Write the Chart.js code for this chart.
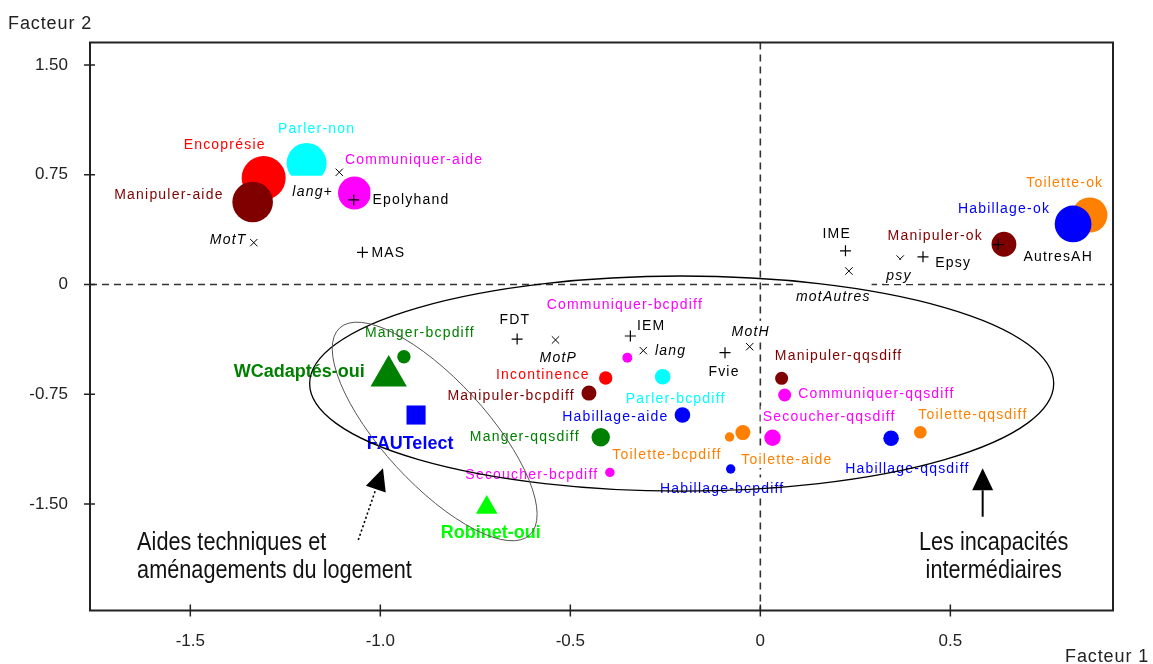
<!DOCTYPE html>
<html>
<head>
<meta charset="utf-8">
<script src="https://cdn.jsdelivr.net/npm/chart.js@4.4.0/dist/chart.umd.min.js"></script>
<style>
  body { margin: 0; background: #fff; }
  canvas { display: block; }
</style>
</head>
<body>
<canvas id="afc" width="1153" height="664"></canvas>
<script>
// modalites actives (cercles), dans l'ordre de trace
const activeNames = ['Encoprésie', 'Manipuler-aide', 'Parler-non', 'Communiquer-aide',
  'Toilette-ok', 'Habillage-ok', 'Manipuler-ok',
  'Manger-bcpdiff', 'Communiquer-bcpdiff', 'Incontinence', 'Manipuler-bcpdiff',
  'Parler-bcpdiff', 'Habillage-aide', 'Manger-qqsdiff', 'Secoucher-bcpdiff',
  'Habillage-bcpdiff', 'Toilette-bcpdiff', 'Toilette-aide', 'Manipuler-qqsdiff',
  'Communiquer-qqsdiff', 'Secoucher-qqsdiff', 'Habillage-qqsdiff', 'Toilette-qqsdiff'];
const activeF1 = [-1.307, -1.336, -1.194, -1.068, 0.867, 0.823, 0.641,
  -0.938, -0.350, -0.407, -0.451, -0.257, -0.205, -0.420, -0.396,
  -0.078, -0.081, -0.046, 0.056, 0.064, 0.032, 0.344, 0.421];
const activeF2 = [0.728, 0.564, 0.830, 0.625, 0.475, 0.414, 0.275,
  -0.494, -0.500, -0.639, -0.742, -0.630, -0.892, -1.044, -1.284,
  -1.261, -1.042, -1.012, -0.641, -0.755, -1.047, -1.051, -1.010];

// aides techniques / amenagements
const equipNames = ['WCadaptés-oui', 'FAUTelect', 'Robinet-oui'];
const equipF1 = [-0.978, -0.906, -0.720];
const equipF2 = [-0.625, -0.892, -1.524];

// variables supplementaires (+)
const supplNames = ['Epolyhand', 'MAS', 'IME', 'Epsy', 'AutresAH', 'FDT', 'IEM', 'Fvie'];
const supplF1 = [-1.070, -1.047, 0.224, 0.428, 0.626, -0.640, -0.342, -0.093];
const supplF2 = [0.578, 0.220, 0.230, 0.189, 0.272, -0.373, -0.352, -0.466];

// motifs (x)
const motifNames = ['lang+', 'MotT', 'motAutres', 'psy', 'MotP', 'lang', 'MotH'];
const motifF1 = [-1.108, -1.333, 0.233, 0.368, -0.539, -0.308, -0.028];
const motifF2 = [0.767, 0.286, 0.092, 0.174, -0.379, -0.452, -0.425];

const xTicks = [-1.5, -1.0, -0.5, 0, 0.5];
const yTicks = [1.5, 0.75, 0, -0.75, -1.5];

// ---- styles ----
const colorByVar = {
  'Encoprésie': '#ff0000', 'Incontinence': '#ff0000', 'Manipuler': '#800000',
  'Parler': '#00ffff', 'Communiquer': '#ff00ff', 'Secoucher': '#ff00ff',
  'Toilette': '#ff8000', 'Habillage': '#0000ff', 'Manger': '#008000',
  'WCadaptés': '#008000', 'FAUTelect': '#0000ff', 'Robinet': '#00ff00'
};
const colorOf = n => colorByVar[n.split('-')[0]] || '#000';

const bubbleRadius = {
  'Encoprésie': 22, 'Manipuler-aide': 20.3, 'Parler-non': 20, 'Communiquer-aide': 16.5,
  'Toilette-ok': 17.6, 'Habillage-ok': 18.4, 'Manipuler-ok': 12.4,
  'Manger-bcpdiff': 6.7, 'Communiquer-bcpdiff': 5, 'Incontinence': 6.7,
  'Manipuler-bcpdiff': 7.5, 'Parler-bcpdiff': 7.8, 'Habillage-aide': 7.8,
  'Manger-qqsdiff': 9.2, 'Secoucher-bcpdiff': 4.7, 'Habillage-bcpdiff': 4.7,
  'Toilette-bcpdiff': 4.7, 'Toilette-aide': 7.5, 'Manipuler-qqsdiff': 6.5,
  'Communiquer-qqsdiff': 6.5, 'Secoucher-qqsdiff': 8.2, 'Habillage-qqsdiff': 7.8,
  'Toilette-qqsdiff': 6.3
};
const equipStyle = { 'WCadaptés-oui': ['triangle', 21], 'FAUTelect': ['rect', 13.5], 'Robinet-oui': ['triangle', 12.5] };

// decalage des etiquettes en px : [dx, dy (milieu du texte), alignement]
const labelPos = {
  'Encoprésie': [-39, -34, 'c'], 'Manipuler-aide': [-29, -8, 'r'], 'Parler-non': [10, -35.5, 'c'],
  'Communiquer-aide': [-9.5, -34, 'l'], 'Toilette-ok': [-25, -33, 'c'], 'Habillage-ok': [-23, -16, 'r'],
  'Manipuler-ok': [-21, -9, 'r'], 'Manger-bcpdiff': [16, -24.5, 'c'], 'Communiquer-bcpdiff': [-2.5, -54, 'c'],
  'Incontinence': [-16, -4, 'r'], 'Manipuler-bcpdiff': [-14, 2, 'r'], 'Parler-bcpdiff': [13, 21, 'c'],
  'Habillage-aide': [-14, 1, 'r'], 'Manger-qqsdiff': [-21, -1, 'r'], 'Secoucher-bcpdiff': [-11.5, 1.7, 'r'],
  'Habillage-bcpdiff': [-8.5, 18.5, 'c'], 'Toilette-bcpdiff': [-8, 17, 'r'], 'Toilette-aide': [-1.5, 26.5, 'l'],
  'Manipuler-qqsdiff': [-6.8, -23, 'l'], 'Communiquer-qqsdiff': [13.5, -2, 'l'], 'Secoucher-qqsdiff': [-9.8, -21.7, 'l'],
  'Habillage-qqsdiff': [16.3, 29.7, 'c'], 'Toilette-qqsdiff': [-2, -18, 'l'],
  'WCadaptés-oui': [-24, -5, 'r'], 'FAUTelect': [-6, 27.7, 'c'], 'Robinet-oui': [4, 24.5, 'c'],
  'Epolyhand': [18.7, -1, 'l'], 'MAS': [9, 0, 'l'], 'IME': [-8.8, -17.4, 'c'], 'Epsy': [12.2, 5, 'l'],
  'AutresAH': [25.2, 11.3, 'l'], 'FDT': [-2.3, -20, 'c'], 'IEM': [6.6, -11, 'l'], 'Fvie': [-1, 18.3, 'c'],
  'lang+': [-6.3, 18.7, 'r'], 'MotT': [-7.3, -3.7, 'r'], 'motAutres': [-15.6, 25, 'c'], 'psy': [-1.2, 16, 'c'],
  'MotP': [2.8, 17, 'c'], 'lang': [11.7, -0.7, 'l'], 'MotH': [1, -15.7, 'c']
};
// etiquettes dont le fond blanc est plus haut (masque ce qui est au-dessus)
const tallBoxes = ['lang+', 'motAutres', 'psy'];

const FONT = '"Liberation Sans", Arial, sans-serif';

const pts = (f1, f2) => f1.map((v, i) => ({ x: v, y: f2[i] }));

const datasets = [
  { label: 'motifs', names: motifNames, data: pts(motifF1, motifF2), labelFont: 'italic 14px ' + FONT, size: 14, black: true,
    pointStyle: 'crossRot', pointRadius: 5.2, pointBorderColor: '#000', pointBorderWidth: 1, order: 0 },
  { label: 'suppl', names: supplNames, data: pts(supplF1, supplF2), labelFont: '14px ' + FONT, size: 14, black: true,
    pointStyle: 'cross', pointRadius: 5.5, pointBorderColor: '#000', pointBorderWidth: 1.2, order: 1 },
  { label: 'equip', names: equipNames, data: pts(equipF1, equipF2), labelFont: 'bold 18px ' + FONT, size: 18, spacing: '0px',
    pointStyle: equipNames.map(n => equipStyle[n][0]), pointRadius: equipNames.map(n => equipStyle[n][1]),
    pointBackgroundColor: equipNames.map(colorOf), pointBorderWidth: 0, order: 2 },
  { label: 'actives', names: activeNames, data: pts(activeF1, activeF2), labelFont: '14px ' + FONT, size: 14,
    pointStyle: 'circle', pointRadius: activeNames.map(n => bubbleRadius[n]),
    pointBackgroundColor: activeNames.map(colorOf), pointBorderWidth: 0, order: 3 }
];
datasets.forEach(d => { d.showLine = false; d.clip = false; d.pointHoverRadius = d.pointRadius; });

// axes a zero en pointilles
const zeroLines = {
  id: 'zeroLines',
  beforeDatasetsDraw(chart) {
    const { ctx, chartArea: a, scales: { x, y } } = chart;
    ctx.save();
    ctx.strokeStyle = '#333';
    ctx.lineWidth = 1.6;
    ctx.setLineDash([7, 5]);
    ctx.beginPath();
    const x0 = x.getPixelForValue(0), y0 = y.getPixelForValue(0);
    ctx.moveTo(x0, a.top); ctx.lineTo(x0, a.bottom);
    ctx.moveTo(a.left, y0); ctx.lineTo(a.right, y0);
    ctx.stroke();
    ctx.restore();
  }
};

// etiquettes des modalites, sur fond blanc
const pointLabels = {
  id: 'pointLabels',
  afterDatasetsDraw(chart) {
    const ctx = chart.ctx;
    const items = [];
    chart.data.datasets.forEach((ds, di) => {
      const meta = chart.getDatasetMeta(di);
      ds.names.forEach((name, i) => {
        const p = meta.data[i];
        const [dx, dy, al] = labelPos[name];
        ctx.font = ds.labelFont;
        ctx.letterSpacing = ds.spacing || '1.2px';
        const w = ctx.measureText(name).width;
        const x = p.x + dx;
        const left = al === 'l' ? x : al === 'r' ? x - w : x - w / 2;
        const base = p.y + dy + ds.size * 0.36;
        items.push({ name, left, base, w, ds, color: ds.black ? '#000' : colorOf(name) });
      });
    });
    ctx.save();
    ctx.fillStyle = '#fff';
    items.forEach(it => {
      const top = it.base - it.ds.size * (tallBoxes.includes(it.name) ? 1.45 : 1.08);
      ctx.fillRect(it.left - 2, top, it.w + 3, it.base + it.ds.size * 0.28 - top);
    });
    ctx.textAlign = 'left';
    ctx.textBaseline = 'alphabetic';
    items.forEach(it => {
      ctx.font = it.ds.labelFont;
      ctx.letterSpacing = it.ds.spacing || '1.2px';
      ctx.fillStyle = it.color;
      ctx.fillText(it.name, it.left, it.base);
    });
    ctx.restore();
  }
};

// ellipses, fleches, commentaires, cadre
const decor = {
  id: 'decor',
  afterDraw(chart) {
    const { ctx, chartArea: a, scales: { x, y } } = chart;
    const P = (u, v) => [x.getPixelForValue(u), y.getPixelForValue(v)];
    ctx.save();
    ctx.letterSpacing = '0px';

    // grande ellipse : incapacites intermediaires
    const [ex, ey] = P(-0.207, -0.677);
    const rx = x.getPixelForValue(-0.207 + 0.979) - ex;
    const ry = ey - y.getPixelForValue(-0.677 + 0.735);
    ctx.strokeStyle = '#000';
    ctx.lineWidth = 1.3;
    ctx.beginPath();
    ctx.ellipse(ex, ey, rx, ry, 0, 0, Math.PI * 2);
    ctx.stroke();

    // petite ellipse inclinee : aides techniques
    const [t1x, t1y] = P(-1.107, -0.297);
    const [t2x, t2y] = P(-0.607, -1.712);
    const half = Math.hypot(t2x - t1x, t2y - t1y) / 2;
    ctx.strokeStyle = '#555';
    ctx.lineWidth = 1;
    ctx.beginPath();
    ctx.ellipse((t1x + t2x) / 2, (t1y + t2y) / 2, half, half * 0.37, Math.atan2(t2y - t1y, t2x - t1x), 0, Math.PI * 2);
    ctx.stroke();

    const arrow = (from, to, dotted) => {
      const [fx, fy] = P(from[0], from[1]);
      const [tx, ty] = P(to[0], to[1]);
      const ang = Math.atan2(ty - fy, tx - fx);
      const hl = 22, hw = 10.5;
      const bx = tx - Math.cos(ang) * hl, by = ty - Math.sin(ang) * hl;
      ctx.strokeStyle = '#000';
      ctx.lineWidth = dotted ? 1.6 : 2;
      ctx.setLineDash(dotted ? [2, 2.5] : []);
      ctx.beginPath();
      ctx.moveTo(fx, fy); ctx.lineTo(bx, by);
      ctx.stroke();
      ctx.setLineDash([]);
      ctx.fillStyle = '#000';
      ctx.beginPath();
      ctx.moveTo(tx, ty);
      ctx.lineTo(bx + Math.sin(ang) * hw, by - Math.cos(ang) * hw);
      ctx.lineTo(bx - Math.sin(ang) * hw, by + Math.cos(ang) * hw);
      ctx.closePath();
      ctx.fill();
    };
    arrow([-1.058, -1.746], [-0.993, -1.256], true);
    arrow([0.585, -1.587], [0.585, -1.256], false);

    // commentaires en caracteres etroits (police compressee horizontalement)
    const narrow = (txt, u, v, dyPx, align) => {
      const [tx, ty] = P(u, v);
      ctx.save();
      ctx.translate(tx, ty + dyPx);
      ctx.scale(0.85, 1);
      ctx.font = '25.5px ' + FONT;
      ctx.textAlign = align;
      ctx.textBaseline = 'alphabetic';
      ctx.fillStyle = '#111';
      ctx.fillText(txt, 0, 0);
      ctx.restore();
    };
    narrow('Aides techniques et', -1.640, -1.815, 0, 'left');
    narrow('aménagements du logement', -1.640, -1.815, 28, 'left');
    narrow('Les incapacités', 0.614, -1.815, 0, 'center');
    narrow('intermédiaires', 0.614, -1.815, 28, 'center');

    // cadre
    ctx.strokeStyle = '#222';
    ctx.lineWidth = 2;
    ctx.strokeRect(a.left, a.top, a.right - a.left, a.bottom - a.top);

    // graduations
    ctx.lineWidth = 1.5;
    ctx.beginPath();
    xTicks.forEach(v => { const px = x.getPixelForValue(v); ctx.moveTo(px, a.bottom - 6); ctx.lineTo(px, a.bottom + 6); });
    yTicks.forEach(v => { const py = y.getPixelForValue(v); ctx.moveTo(a.left - 6, py); ctx.lineTo(a.left + 5, py); });
    ctx.stroke();

    // titres des axes
    ctx.fillStyle = '#222';
    ctx.font = '18px ' + FONT;
    ctx.letterSpacing = '0.9px';
    ctx.textAlign = 'left';
    ctx.textBaseline = 'alphabetic';
    ctx.fillText('Facteur 2', 8, 28.5);
    ctx.fillText('Facteur 1', 1065, 662);
    ctx.restore();
  }
};

new Chart(document.getElementById('afc'), {
  type: 'scatter',
  data: { datasets },
  options: {
    responsive: false,
    animation: false,
    layout: { padding: { top: 42.5, right: 40, left: 0, bottom: 0 } },
    plugins: { legend: { display: false }, tooltip: { enabled: false } },
    scales: {
      x: {
        type: 'linear', min: -1.764, max: 0.928,
        grid: { display: false }, border: { display: false },
        afterBuildTicks: s => { s.ticks = xTicks.map(v => ({ value: v })); },
        afterFit: s => { s.height = 53.5; },
        ticks: { autoSkip: false, maxRotation: 0, padding: 13, color: '#222',
          font: { family: FONT, size: 17 },
          callback: v => v === 0 ? '0' : v.toFixed(1) }
      },
      y: {
        type: 'linear', min: -2.228, max: 1.654,
        grid: { display: false }, border: { display: false },
        afterBuildTicks: s => { s.ticks = yTicks.map(v => ({ value: v })); },
        afterFit: s => { s.width = 90; },
        ticks: { autoSkip: false, padding: 14, color: '#222',
          font: { family: FONT, size: 17 },
          callback: v => v === 0 ? '0' : v.toFixed(2) }
      }
    }
  },
  plugins: [zeroLines, pointLabels, decor]
});
</script>
</body>
</html>
